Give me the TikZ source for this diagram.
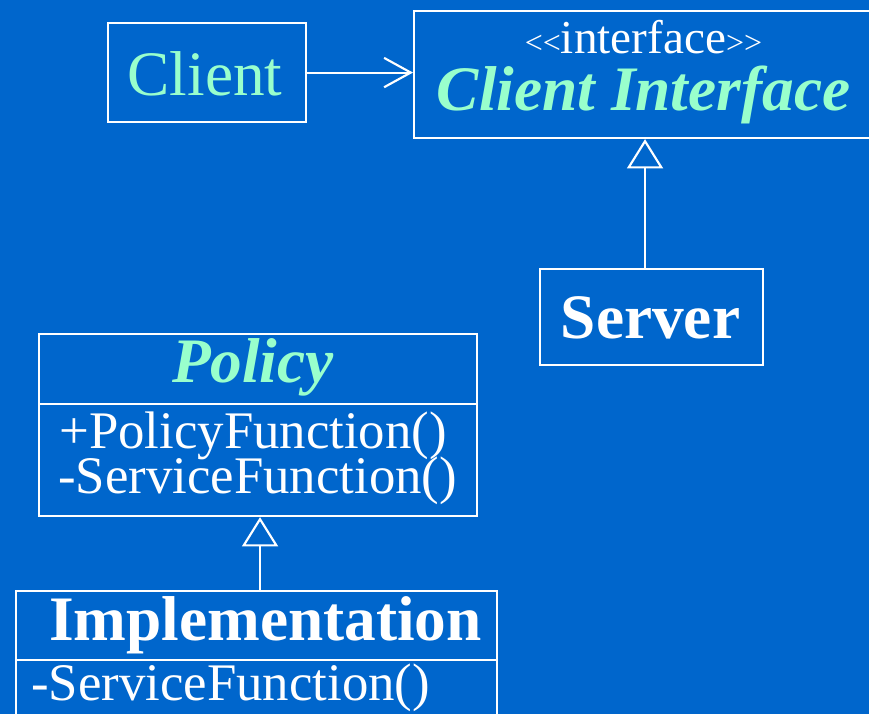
\documentclass[tikz,border=0pt]{standalone}
\usepackage{fontspec}
\setmainfont{Liberation Serif}
\usetikzlibrary{arrows.meta}
\definecolor{slideblue}{HTML}{0066CC}
\definecolor{namegreen}{HTML}{99FFCC}
\tikzset{
	box/.style={draw=white, line width=1.6pt, inner sep=0pt, anchor=north west},
	txt/.style={inner sep=0pt, anchor=base, text=white},
	bigfont/.style={font=\fontsize{47.5}{50}\selectfont},
	opfont/.style={font=\fontsize{39.6}{42}\selectfont},
	gen/.style={draw=white, line width=1.6pt, -{Triangle[open, length=22pt, width=27pt, line width=1.6pt]}},
	uses/.style={draw=white, line width=1.6pt, -{Straight Barb[length=20pt, width=22pt, line width=1.6pt]}}
}

\begin{document}
\begin{tikzpicture}[x=0.75pt, y=-0.75pt]
		%%%%% START %%%%%
		
		\fill[slideblue] (0, 0) rectangle (869, 714);
		\useasboundingbox (0, 0) rectangle (869, 714);
		\clip (0, 0) rectangle (869, 714);
		
		% client and the interface it talks to
		\node[box, minimum width=148.5pt, minimum height=74.25pt] (client) at (107, 22) {};
		\node[txt, bigfont, text=namegreen] (clientname) at (205, 95) {Client};
		
		\node[box, minimum width=352.5pt, minimum height=95.25pt] (iface) at (413, 10) {};
		\node[txt] (ifacestereo) at (643.5, 53) {\fontsize{24}{26}\selectfont<{}<\fontsize{35.4}{38}\selectfont interface\fontsize{24}{26}\selectfont>{}>};
		\node[txt, bigfont, text=namegreen] (ifacename) at (643.5, 110) {\textbf{\textit{Client Interface}}};
		
		\draw[uses] (client.east) -- (client.east -| iface.west);
		
		% server realises the interface
		\node[box, minimum width=167.25pt, minimum height=72pt] (server) at (539, 268) {};
		\node[txt, bigfont] (servername) at (650.5, 338) {\textbf{Server}};
		
		\draw[gen] ([xshift=-4.9pt]server.north) -- ([xshift=-4.9pt]server.north |- iface.south);
		
		% abstract policy class
		\node[box, minimum width=328.5pt, minimum height=52.5pt] (policy) at (38, 333) {};
		\node[box, minimum width=328.5pt, minimum height=84pt] (policyops) at (38, 403) {};
		\node[txt, bigfont, text=namegreen] (policyname) at (253, 382) {\textbf{\textit{Policy}}};
		\node[txt, opfont, anchor=base west] (policyop1) at (59, 448) {+PolicyFunction()};
		\node[txt, opfont, anchor=base west] (policyop2) at (58, 493) {-ServiceFunction()};
		
		% implementation of the policy
		\node[box, minimum width=360.75pt, minimum height=51.75pt] (impl) at (15, 590) {};
		\node[box, minimum width=360.75pt, minimum height=60.75pt] (implops) at (15, 659) {};
		\node[txt, bigfont] (implname) at (265.5, 640) {\textbf{Implementation}};
		\node[txt, opfont, anchor=base west] (implop1) at (31, 700) {-ServiceFunction()};
		
		\draw[gen] ([xshift=2.6pt]impl.north) -- ([xshift=2.6pt]impl.north |- policyops.south);
		
		%%%%% END %%%%%
\end{tikzpicture}
\end{document}
